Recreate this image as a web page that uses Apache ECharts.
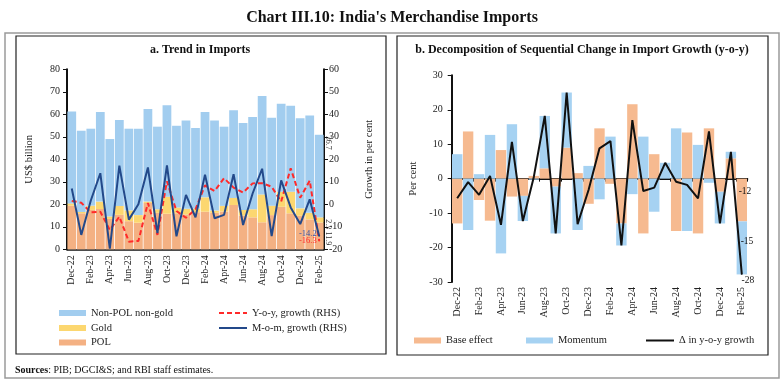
<!DOCTYPE html>
<html>
<head>
<meta charset="utf-8">
<script src="https://cdn.jsdelivr.net/npm/echarts@6/dist/echarts.min.js"></script>
<style>html,body{margin:0;padding:0;background:#fff}#c{width:784px;height:384px}</style>
</head>
<body>
<div id="c"></div>
<script>
// ---------- DATA ----------
const months = ['Dec-22','Jan-23','Feb-23','Mar-23','Apr-23','May-23','Jun-23','Jul-23','Aug-23','Sep-23','Oct-23','Nov-23','Dec-23','Jan-24','Feb-24','Mar-24','Apr-24','May-24','Jun-24','Jul-24','Aug-24','Sep-24','Oct-24','Nov-24','Dec-24','Jan-25','Feb-25'];
// Panel a (US$ billion)
const pol    = [19.4,16.0,17.5,17.9,13.5,15.3,12.5,11.8,20.6,16.2,15.8,16.0,15.5,16.5,16.7,16.2,16.8,19.7,15.0,14.2,12.0,15.2,18.9,16.0,14.9,13.3,11.9];
const gold   = [1.0,0.6,1.9,3.3,1.1,4.0,4.8,3.4,0.6,1.6,7.6,2.6,2.5,1.6,6.4,1.0,2.5,3.1,2.5,3.6,12.4,4.2,6.7,9.6,3.3,2.9,2.3];
const nonPol = [40.8,36.1,34.2,39.8,34.4,38.2,36.3,38.4,41.2,36.7,40.6,36.3,39.2,35.8,37.9,40.0,35.2,39.0,38.6,41.0,43.7,39.1,39.1,38.2,40.0,43.3,36.7];
// Growth (per cent, RHS)
const yoyGrowth = [1.5,0.7,-3.6,-3.3,-11.4,-5.5,-16.6,-16.3,0.6,-13.6,10.2,-3.0,-6.0,-2.2,8.4,5.9,11.6,7.4,5.2,9.3,9.4,7.8,1.2,16.0,2.9,10.5,-16.3];
const momGrowth = [7.0,-13.6,1.7,13.8,-19.7,17.2,-6.8,0.0,16.4,-12.8,17.3,-14.2,4.2,-5.8,13.2,-6.2,-4.7,13.4,-9.2,4.8,15.8,-14.1,10.6,-1.4,-8.8,2.2,-14.2];
// Panel b (per cent)
const baseEffect = [-13.0,13.7,-6.2,-12.2,8.3,-5.2,-5.0,0.8,3.0,-2.3,9.0,1.6,-7.3,14.6,-1.5,-13.0,21.6,-15.9,7.1,0.0,-15.2,13.4,-15.9,14.6,-3.8,5.9,-12.4];
const momentum   = [7.1,-14.9,1.3,12.7,-21.7,15.8,-7.3,-0.3,15.2,-13.6,16.0,-14.9,3.7,-6.0,12.2,-6.4,-4.5,12.2,-9.6,4.6,14.6,-15.2,9.8,-1.2,-9.2,1.9,-15.4];
const deltaYoy   = [-5.7,-1.0,-4.7,0.8,-13.4,10.7,-12.3,0.5,18.2,-15.9,25.0,-13.2,-3.3,8.8,10.9,-19.4,17.0,-3.6,-2.6,4.6,-0.9,-1.8,-5.7,13.7,-13.0,7.8,-27.8];
// Tick labels
const leftTicks = [0,10,20,30,40,50,60,70,80];

// ---------- STYLE ----------
const FONT = "'Liberation Serif','DejaVu Serif',serif";
const C = {pol:'#F4B183', gold:'#FCD770', nonPol:'#A2CDEF', yoy:'#FF2A2A', mom:'#23498A',
           base:'#F6BA90', momentum:'#A6D2F2', delta:'#111111', txt:'#222'};
const last = months.length - 1;

function withLastLabel(arr, label, extra) {
  return arr.map((v, i) => i === last ? Object.assign({value: v, label: Object.assign({show: true}, label)}, extra || {}) : v);
}

const chart = echarts.init(document.getElementById('c'), null, {renderer: 'canvas'});

const yAxisCommon = {
  axisLine: {show: true, lineStyle: {color: '#111', width: 2}},
  axisTick: {show: true, length: 4, lineStyle: {color: '#111'}},
  splitLine: {show: false},
  axisLabel: {color: C.txt, fontSize: 10, fontFamily: FONT},
  nameTextStyle: {color: C.txt, fontSize: 10.5, fontFamily: FONT},
  nameLocation: 'middle'
};
const legText = {fontSize: 10.5, color: C.txt, fontFamily: FONT};
const hideSym = {opacity: 0};
function leg(left, top, name, isLine) {
  const o = {left: left, top: top, padding: 0, itemTextGap: 3, itemWidth: isLine ? 28 : 27, itemHeight: isLine ? 8 : 6,
             data: [name], textStyle: legText};
  if (isLine) o.itemStyle = hideSym; else o.icon = 'rect';
  return o;
}

const option = {
  animation: false,
  textStyle: {fontFamily: FONT},
  graphic: [
    {type: 'rect', shape: {x: 5, y: 33, width: 774, height: 345}, style: {fill: 'none', stroke: '#9a9a9a', lineWidth: 1.5}, silent: true},
    {type: 'rect', shape: {x: 16, y: 36, width: 370, height: 318}, style: {fill: 'none', stroke: '#222', lineWidth: 1.2}, silent: true},
    {type: 'rect', shape: {x: 397, y: 36, width: 371, height: 319}, style: {fill: 'none', stroke: '#222', lineWidth: 1.2}, silent: true},
    {type: 'text', x: 392, y: 18, style: {text: "Chart III.10: India's Merchandise Imports", font: "bold 16px " + FONT, fill: '#111', textAlign: 'center', textVerticalAlign: 'middle'}},
    {type: 'text', x: 200, y: 50, style: {text: 'a. Trend in Imports', font: "bold 12px " + FONT, fill: '#111', textAlign: 'center', textVerticalAlign: 'middle'}},
    {type: 'text', x: 582, y: 50, style: {text: 'b. Decomposition of Sequential Change in Import Growth (y-o-y)', font: "bold 12px " + FONT, fill: '#111', textAlign: 'center', textVerticalAlign: 'middle'}},
    {type: 'text', x: 15, y: 370, style: {
      text: '{b|Sources}: PIB; DGCI&S; and RBI staff estimates.',
      rich: {b: {fontWeight: 'bold', fontSize: 10, fontFamily: FONT, fill: '#111'}},
      font: "10px " + FONT, fill: '#111', textVerticalAlign: 'middle'}}
  ],
  grid: [
    {left: 67, top: 69.3, width: 257, height: 180},
    {left: 451.7, top: 75.3, width: 295.6, height: 206.7}
  ],
  xAxis: [
    {type: 'category', gridIndex: 0, data: months,
     axisLine: {onZero: false, lineStyle: {color: '#111', width: 1.5}},
     axisTick: {interval: 1, alignWithLabel: true, length: 4, lineStyle: {color: '#111'}},
     axisLabel: {interval: 1, rotate: 90, margin: 6, fontSize: 10, color: C.txt, fontFamily: FONT}},
    {type: 'category', gridIndex: 1, data: months, position: 'bottom',
     axisLine: {show: false, onZero: false}, axisTick: {show: false},
     axisLabel: {interval: 1, rotate: 90, margin: 5, fontSize: 10, color: C.txt, fontFamily: FONT}},
    {type: 'category', gridIndex: 1, data: months, position: 'bottom',
     axisLine: {show: true, onZero: true, onZeroAxisIndex: 2, lineStyle: {color: '#111', width: 2}},
     axisTick: {show: true, interval: 1, length: 3, lineStyle: {color: '#111'}},
     axisLabel: {show: false}}
  ],
  yAxis: [
    Object.assign({}, yAxisCommon, {type: 'value', gridIndex: 0, min: leftTicks[0], max: leftTicks[leftTicks.length - 1], interval: 10,
      name: 'US$ billion', nameGap: 32, axisLabel: Object.assign({}, yAxisCommon.axisLabel, {margin: 7})}),
    Object.assign({}, yAxisCommon, {type: 'value', gridIndex: 0, position: 'right', min: -20, max: 60, interval: 10,
      name: 'Growth in per cent', nameGap: 40, nameRotate: 90, axisLabel: Object.assign({}, yAxisCommon.axisLabel, {margin: 5})}),
    Object.assign({}, yAxisCommon, {type: 'value', gridIndex: 1, min: -30, max: 30, interval: 10,
      name: 'Per cent', nameGap: 33, axisLabel: Object.assign({}, yAxisCommon.axisLabel, {margin: 9})})
  ],
  legend: [
    leg(59, 307.5, 'Non-POL non-gold', false),
    leg(59, 322.5, 'Gold', false),
    leg(59, 337, 'POL', false),
    leg(218, 307.5, 'Y-o-y, growth (RHS)', true),
    leg(218, 322.5, 'M-o-m, growth (RHS)', true),
    leg(414, 335, 'Base effect', false),
    leg(526, 335, 'Momentum', false),
    leg(645, 335, 'Δ in y-o-y growth', true)
  ],
  series: [
    {name: 'POL', type: 'bar', xAxisIndex: 0, yAxisIndex: 0, stack: 'imp', barCategoryGap: '8%', itemStyle: {color: C.pol},
     data: withLastLabel(pol, {position: [13, 9], rotate: -90, align: 'left', verticalAlign: 'middle', fontSize: 8, color: '#333', fontFamily: FONT})},
    {name: 'Gold', type: 'bar', xAxisIndex: 0, yAxisIndex: 0, stack: 'imp', itemStyle: {color: C.gold},
     data: withLastLabel(gold, {position: [13, 2], rotate: -90, align: 'left', verticalAlign: 'middle', fontSize: 8, color: '#333', fontFamily: FONT})},
    {name: 'Non-POL non-gold', type: 'bar', xAxisIndex: 0, yAxisIndex: 0, stack: 'imp', itemStyle: {color: C.nonPol},
     data: withLastLabel(nonPol, {position: [13, 1], rotate: -90, align: 'left', verticalAlign: 'middle', fontSize: 8, color: '#333', fontFamily: FONT})},
    {name: 'Y-o-y, growth (RHS)', type: 'line', xAxisIndex: 0, yAxisIndex: 1, symbol: 'none',
     lineStyle: {color: C.yoy, width: 2, type: [5, 3]}, itemStyle: {color: C.yoy},
     data: withLastLabel(yoyGrowth, {position: 'left', distance: 2, fontSize: 8.5, color: C.yoy, fontFamily: FONT}, {symbol: 'circle', symbolSize: 1})},
    {name: 'M-o-m, growth (RHS)', type: 'line', xAxisIndex: 0, yAxisIndex: 1, symbol: 'none',
     lineStyle: {color: C.mom, width: 2}, itemStyle: {color: C.mom},
     data: withLastLabel(momGrowth, {position: 'left', distance: 2, offset: [0, -2], fontSize: 8.5, color: '#3355aa', fontFamily: FONT}, {symbol: 'circle', symbolSize: 1})},
    {name: 'Base effect', type: 'bar', xAxisIndex: 1, yAxisIndex: 2, stack: 'dec', barCategoryGap: '5%', itemStyle: {color: C.base},
     data: withLastLabel(baseEffect, {position: [2, 13], align: 'left', verticalAlign: 'middle', fontSize: 9.5, color: '#111', fontFamily: FONT, formatter: p => Math.round(p.value)})},
    {name: 'Momentum', type: 'bar', xAxisIndex: 1, yAxisIndex: 2, stack: 'dec', itemStyle: {color: C.momentum},
     data: withLastLabel(momentum, {position: [4, 20], align: 'left', verticalAlign: 'middle', fontSize: 9.5, color: '#111', fontFamily: FONT, formatter: p => Math.round(p.value)})},
    {name: 'Δ in y-o-y growth', type: 'line', xAxisIndex: 1, yAxisIndex: 2, symbol: 'none',
     lineStyle: {color: C.delta, width: 2}, itemStyle: {color: C.delta},
     data: withLastLabel(deltaYoy, {position: 'bottom', distance: 1, offset: [6, 0], fontSize: 9.5, color: '#111', fontFamily: FONT, formatter: p => Math.round(p.value)}, {symbol: 'circle', symbolSize: 1})}
  ]
};
chart.setOption(option);
</script>
</body>
</html>
